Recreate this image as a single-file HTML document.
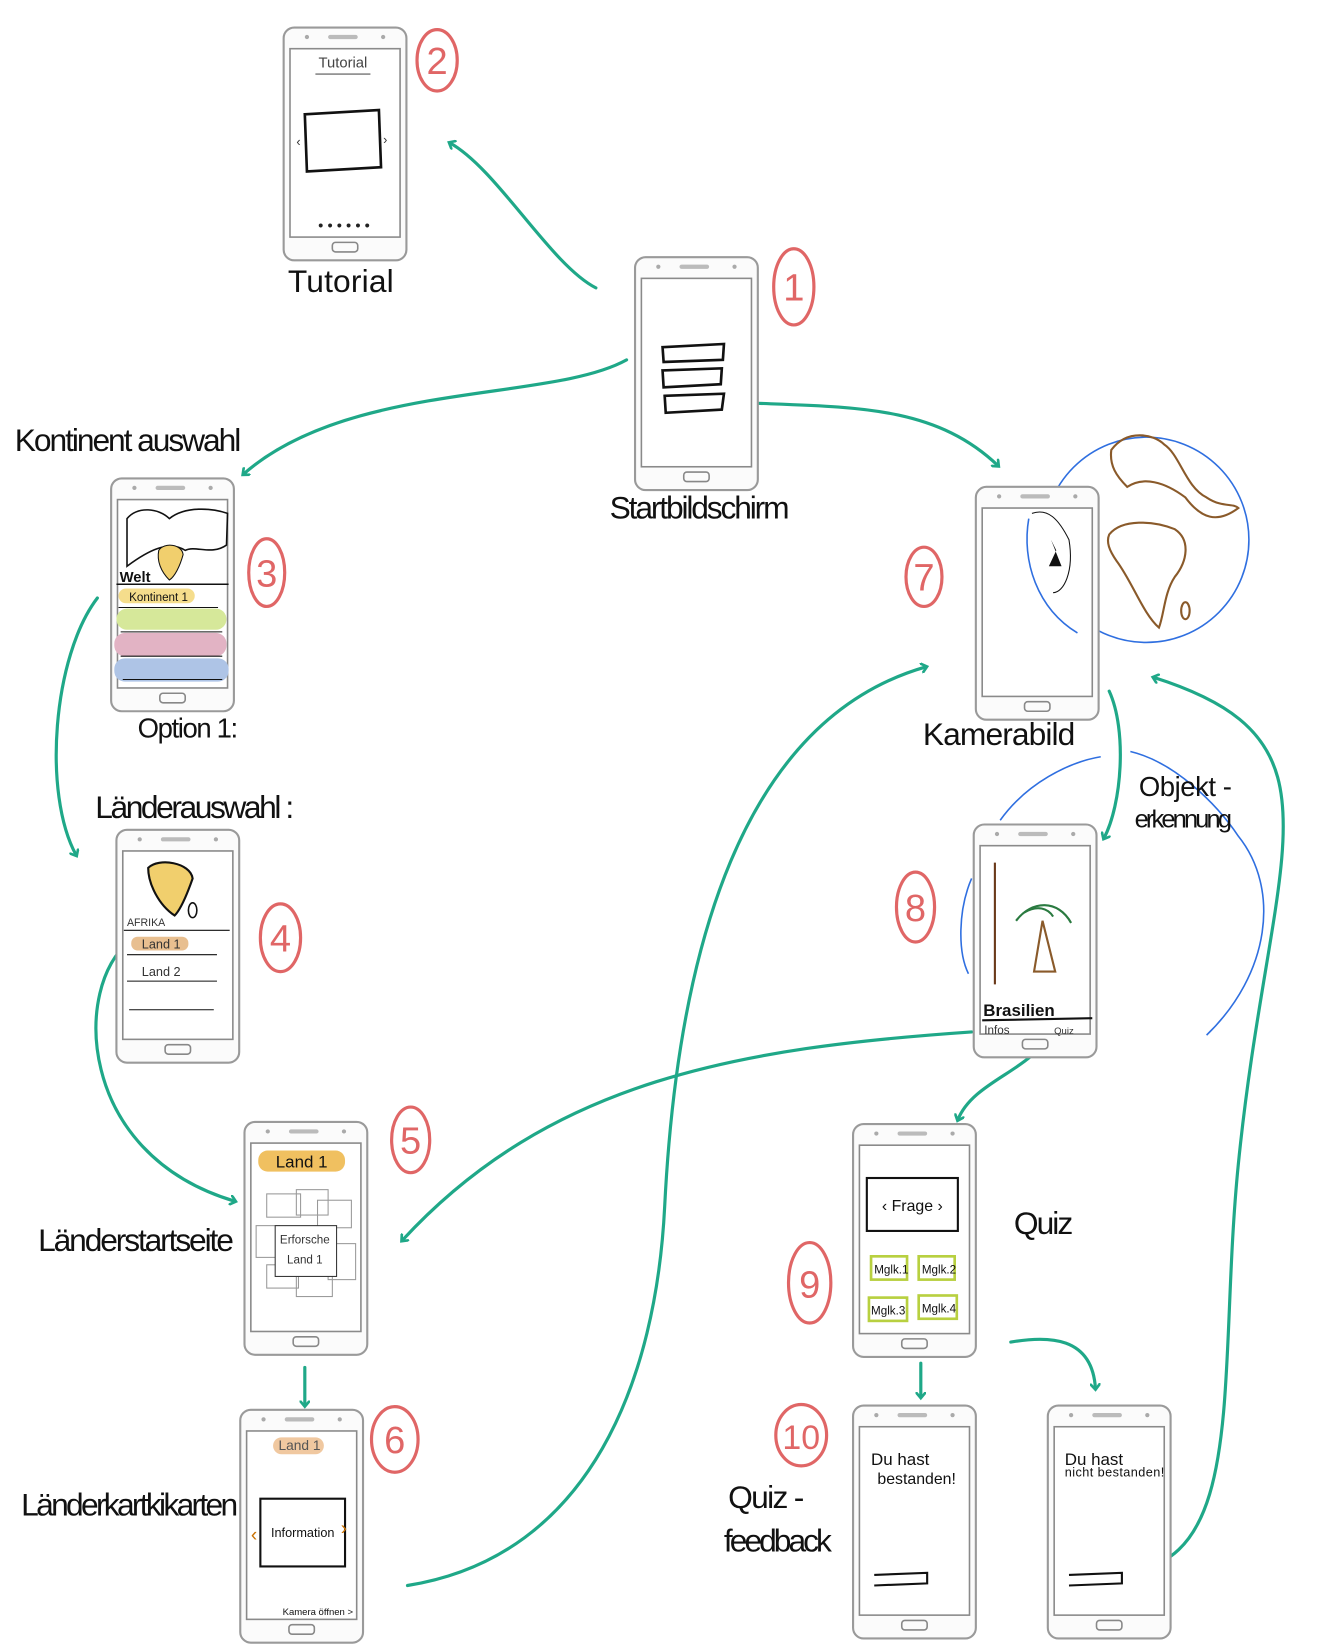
<!DOCTYPE html>
<html><head><meta charset="utf-8"><style>
html,body{margin:0;padding:0;background:#fff}
svg{display:block}
text{font-family:"Liberation Sans",sans-serif}
</style></head><body>
<svg width="1323" height="1649" viewBox="0 0 1250 1558" preserveAspectRatio="none" xmlns="http://www.w3.org/2000/svg">
<defs>
<g id="ph">
<rect x="0" y="0" width="116" height="220" rx="10" fill="#fbfbfb" stroke="#9a9a9a" stroke-width="2"/>
<rect x="6" y="20" width="104" height="178" fill="#fff" stroke="#8a8a8a" stroke-width="1.5"/>
<rect x="42" y="7" width="28" height="4" rx="2" fill="#bbb"/>
<circle cx="22" cy="9" r="2" fill="#aaa"/><circle cx="94" cy="9" r="2" fill="#aaa"/>
<rect x="46" y="203" width="24" height="9" rx="3" fill="none" stroke="#888" stroke-width="1.5"/>
</g>
<marker id="ah" markerWidth="10" markerHeight="10" refX="5" refY="5" orient="auto" markerUnits="userSpaceOnUse" viewBox="0 0 10 10"><path d="M0,0 L6,5 L0,10" fill="none" stroke="#1fa888" stroke-width="2.5"/></marker>
</defs>
<g fill="none" stroke="#1fa888" stroke-width="3" stroke-linecap="round">
<path d="M563,272 C520,250 470,160 425,135" marker-end="url(#ah)"/>
<path d="M592,340 C520,380 330,360 230,448" marker-end="url(#ah)"/>
<path d="M690,380 C800,385 880,380 943,440" marker-end="url(#ah)"/>
<path d="M92,565 C50,620 40,750 72,808" marker-end="url(#ah)"/>
<path d="M122,890 C70,930 70,1090 222,1135" marker-end="url(#ah)"/>
<path d="M288,1292 L288,1328" marker-end="url(#ah)"/>
<path d="M385,1498 C560,1470 620,1300 628,1140 C640,900 700,680 875,630" marker-end="url(#ah)"/>
<path d="M918,975 C700,990 520,1020 380,1172" marker-end="url(#ah)"/>
<path d="M990,975 C980,1010 920,1020 905,1058" marker-end="url(#ah)"/>
<path d="M1048,653 C1065,690 1060,760 1043,792" marker-end="url(#ah)"/>
<path d="M870,1288 L870,1320" marker-end="url(#ah)"/>
<path d="M955,1268 C990,1262 1032,1262 1035,1312" marker-end="url(#ah)"/>
<path d="M1060,1485 C1180,1480 1150,1300 1170,1100 C1200,800 1280,700 1090,640" marker-end="url(#ah)"/>
</g>
<g fill="none" stroke="#2f6fe0" stroke-width="1.5">
<circle cx="1083" cy="510" r="97"/>
<path d="M945,775 C970,740 1010,720 1040,715"/>
<path d="M1068,710 C1110,720 1150,760 1170,790 C1210,840 1200,920 1140,978"/>
<path d="M918,830 C905,860 905,900 915,920"/>
</g>
<g fill="none" stroke="#8a5a2a" stroke-width="2">
<path d="M1050,425 C1065,405 1090,410 1100,420 C1115,430 1120,460 1140,470 C1155,480 1165,475 1170,480 C1150,495 1135,490 1120,470 C1100,455 1080,450 1065,460 C1055,450 1048,440 1050,425 Z"/>
<path d="M1048,505 C1060,490 1090,492 1110,500 C1125,510 1122,530 1110,545 C1100,560 1100,580 1095,593 C1080,580 1070,550 1055,530 C1048,520 1045,512 1048,505 Z"/>
<ellipse cx="1120" cy="577" rx="4" ry="8"/>
</g>
<use href="#ph" x="268" y="26"/>
<use href="#ph" x="600" y="243"/>
<use href="#ph" x="105" y="452"/>
<use href="#ph" x="110" y="784"/>
<use href="#ph" x="231" y="1060"/>
<use href="#ph" x="227" y="1332"/>
<use href="#ph" x="922" y="460"/>
<use href="#ph" x="920" y="779"/>
<use href="#ph" x="806" y="1062"/>
<use href="#ph" x="806" y="1328"/>
<use href="#ph" x="990" y="1328"/>
<!-- phone details -->
<text x="324" y="64" font-size="14" text-anchor="middle" fill="#444">Tutorial</text>
<line x1="298" y1="70" x2="350" y2="70" stroke="#555"/>
<path d="M288,108 L358,104 L360,158 L290,162 Z" fill="none" stroke="#111" stroke-width="2.5"/>
<text x="280" y="138" font-size="12" fill="#333">‹</text><text x="362" y="136" font-size="12" fill="#333">›</text>
<text x="325" y="218" font-size="14" text-anchor="middle" fill="#222">• • • • • •</text>
<g fill="none" stroke="#111" stroke-width="2.5"><path d="M626,328 L684,325 L683,340 L627,342 Z"/><path d="M626,350 L682,348 L681,363 L627,366 Z"/><path d="M628,374 L684,372 L682,387 L629,390 Z"/></g>
<path d="M120,490 C130,478 150,480 160,490 C175,478 200,480 215,485 L214,515 C200,525 185,515 175,520 C160,510 140,520 120,535 Z" fill="none" stroke="#111" stroke-width="1.5"/>
<path d="M150,520 C155,512 172,514 173,524 C170,535 165,545 160,548 C152,540 148,530 150,520 Z" fill="#f1cf6d" stroke="#111"/>
<text x="113" y="550" font-size="14" font-weight="bold" fill="#111">Welt</text>
<line x1="110" y1="552" x2="216" y2="552" stroke="#111" stroke-width="1.5"/>
<rect x="112" y="556" width="72" height="14" rx="7" fill="#f5dd8c"/>
<text x="122" y="568" font-size="11" fill="#111">Kontinent 1</text>
<rect x="110" y="575" width="104" height="20" rx="10" fill="#d6e89a"/>
<rect x="108" y="598" width="106" height="22" rx="10" fill="#e2b3c4"/>
<rect x="108" y="622" width="108" height="22" rx="10" fill="#aec4e6"/>
<g stroke="#111"><line x1="112" y1="574" x2="206" y2="574"/><line x1="114" y1="597" x2="210" y2="597"/><line x1="114" y1="620" x2="210" y2="620"/><line x1="116" y1="642" x2="210" y2="642"/></g>
<path d="M140,820 C150,810 180,815 182,830 C175,850 170,860 165,865 C150,855 140,835 140,820 Z" fill="#f1cf6d" stroke="#111" stroke-width="2"/>
<ellipse cx="182" cy="860" rx="4" ry="7" fill="none" stroke="#111" stroke-width="1.5"/>
<text x="120" y="875" font-size="10" fill="#333">AFRIKA</text>
<line x1="117" y1="879" x2="217" y2="879" stroke="#111"/>
<rect x="124" y="885" width="54" height="13" rx="6" fill="#e8bf90"/>
<text x="134" y="896" font-size="12" fill="#333">Land 1</text>
<text x="134" y="922" font-size="12" fill="#333">Land 2</text>
<g stroke="#111"><line x1="120" y1="902" x2="205" y2="902"/><line x1="120" y1="927" x2="205" y2="927"/><line x1="122" y1="954" x2="202" y2="954"/></g>
<rect x="244" y="1087" width="82" height="20" rx="9" fill="#f0c060"/>
<text x="285" y="1103" font-size="16" text-anchor="middle" fill="#111">Land 1</text>
<g fill="none" stroke="#999"><rect x="252" y="1128" width="32" height="22"/><rect x="280" y="1124" width="30" height="24"/><rect x="300" y="1134" width="32" height="26"/><rect x="242" y="1158" width="22" height="30"/><rect x="310" y="1175" width="26" height="34"/><rect x="252" y="1195" width="30" height="22"/><rect x="280" y="1205" width="34" height="20"/></g>
<rect x="260" y="1158" width="58" height="48" fill="#fff" stroke="#333"/>
<text x="288" y="1175" font-size="11" text-anchor="middle" fill="#333">Erforsche</text>
<text x="288" y="1194" font-size="11" text-anchor="middle" fill="#333">Land 1</text>
<rect x="258" y="1358" width="48" height="16" rx="8" fill="#f0c8a0"/>
<text x="283" y="1370" font-size="13" text-anchor="middle" fill="#555">Land 1</text>
<rect x="246" y="1416" width="80" height="64" fill="none" stroke="#111" stroke-width="2"/>
<text x="286" y="1452" font-size="12" text-anchor="middle" fill="#111">Information</text>
<text x="237" y="1456" font-size="18" fill="#c87000">‹</text><text x="322" y="1450" font-size="18" fill="#c87000">›</text>
<text x="267" y="1526" font-size="9" fill="#111">Kamera öffnen &gt;</text>
<path d="M993,510 L998,520 L991,535 L1003,535 L997,520 Z" fill="#111"/>
<path d="M975,485 C990,480 1000,490 1010,510 C1015,540 1005,560 995,560" fill="none" stroke="#111"/>
<path d="M972,490 C965,530 980,575 1018,598" fill="none" stroke="#2f6fe0" stroke-width="1.5"/>
<line x1="940" y1="815" x2="940" y2="930" stroke="#6a3a1a" stroke-width="2"/>
<path d="M985,870 L977,918 L997,918 Z" fill="none" stroke="#8a5a2a" stroke-width="2"/>
<path d="M960,870 C975,850 1000,850 1012,872" fill="none" stroke="#2a7a40" stroke-width="2"/>
<path d="M968,862 C980,855 990,858 995,866" fill="none" stroke="#2a7a40" stroke-width="2"/>
<text x="929" y="960" font-size="16" font-weight="bold" fill="#111">Brasilien</text>
<line x1="928" y1="964" x2="1032" y2="962" stroke="#111" stroke-width="2"/>
<text x="930" y="977" font-size="11" fill="#333">Infos</text><text x="996" y="977" font-size="9" fill="#333">Quiz</text>
<rect x="819" y="1113" width="86" height="50" fill="none" stroke="#111" stroke-width="2"/>
<text x="862" y="1144" font-size="15" text-anchor="middle" fill="#111">‹ Frage ›</text>
<g fill="none" stroke="#b8d040" stroke-width="2.5"><rect x="823" y="1187" width="34" height="22"/><rect x="868" y="1187" width="34" height="22"/><rect x="821" y="1226" width="36" height="22"/><rect x="868" y="1224" width="36" height="22"/></g>
<g font-size="11" fill="#111"><text x="826" y="1203">Mglk.1</text><text x="871" y="1203">Mglk.2</text><text x="823" y="1242">Mglk.3</text><text x="871" y="1240">Mglk.4</text></g>
<text x="823" y="1384" font-size="16" fill="#111">Du hast</text><text x="829" y="1402" font-size="15" fill="#111">bestanden!</text>
<path d="M826,1488 L876,1486 L876,1496 L826,1498" fill="none" stroke="#111" stroke-width="2"/>
<text x="1006" y="1384" font-size="16" fill="#111">Du hast</text><text x="1006" y="1395" font-size="12" fill="#111" textLength="94">nicht bestanden!</text>
<path d="M1010,1488 L1060,1486 L1060,1496 L1010,1498" fill="none" stroke="#111" stroke-width="2"/>
<!-- numbers -->
<g fill="none" stroke="#e06666" stroke-width="3">
<ellipse cx="413" cy="57" rx="19" ry="29"/><ellipse cx="750" cy="271" rx="19" ry="36"/>
<ellipse cx="252" cy="541" rx="17" ry="32"/><ellipse cx="265" cy="886" rx="19" ry="32"/>
<ellipse cx="388" cy="1077" rx="18" ry="31"/><ellipse cx="373" cy="1360" rx="22" ry="31"/>
<ellipse cx="873" cy="545" rx="17" ry="28"/><ellipse cx="865" cy="857" rx="18" ry="33"/>
<ellipse cx="765" cy="1212" rx="20" ry="38"/><ellipse cx="757" cy="1356" rx="24" ry="29"/>
</g>
<g fill="#e06666" font-size="36" text-anchor="middle">
<text x="413" y="70">2</text><text x="750" y="284">1</text><text x="252" y="554">3</text><text x="265" y="899">4</text><text x="388" y="1090">5</text><text x="373" y="1373">6</text><text x="873" y="558">7</text><text x="865" y="870">8</text><text x="765" y="1226">9</text><text x="757" y="1369" font-size="32">10</text>
</g>
<!-- labels -->
<g fill="#111" font-size="30">
<text x="272" y="276" textLength="100">Tutorial</text>
<text x="576" y="490" textLength="170">Startbildschirm</text>
<text x="14" y="426" textLength="214">Kontinent auswahl</text>
<text x="130" y="697" font-size="26" textLength="95">Option 1:</text>
<text x="90" y="773" textLength="188">Länderauswahl :</text>
<text x="36" y="1182" textLength="185">Länderstartseite</text>
<text x="20" y="1432" textLength="205">Länderkartkikarten</text>
<text x="872" y="704" textLength="144">Kamerabild</text>
<text x="1076" y="752" font-size="26" textLength="88">Objekt -</text>
<text x="1072" y="782" font-size="24" textLength="92">erkennung</text>
<text x="958" y="1166" textLength="56">Quiz</text>
<text x="688" y="1425" textLength="72">Quiz -</text>
<text x="684" y="1466" textLength="102">feedback</text>
</g>
</svg>
</body></html>
